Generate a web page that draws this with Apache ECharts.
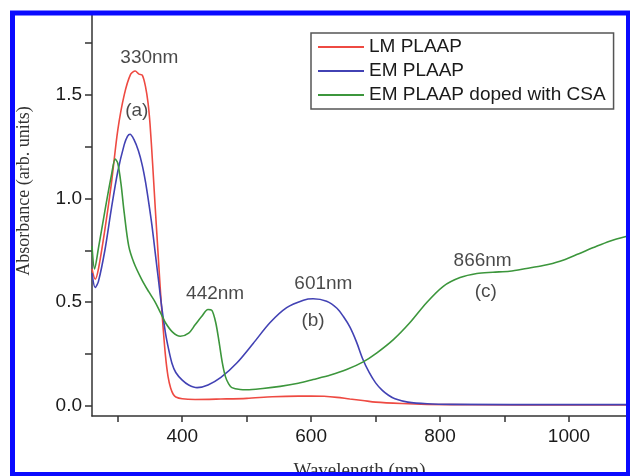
<!DOCTYPE html>
<html>
<head>
    <meta charset="utf-8">
    <title>Absorbance spectra</title>
    <style>
        body { margin: 0; overflow: hidden; background: #fff; }
    </style>
</head>
<body>
	<div id="chart-container" style="width: 630px; height: 476px;"></div>

	<script type="text/javascript" src="https://cdn.jsdelivr.net/npm/echarts@6/dist/echarts.min.js"></script>
	<script type="text/javascript">
		// [wavelength nm, absorbance]
		var lmPlaap = [
			[260, 0.66], [265, 0.61], [270, 0.66], [280, 0.85], [290, 1.07], [300, 1.33],
			[310, 1.50], [320, 1.60], [327, 1.615], [333, 1.60], [338, 1.595], [343, 1.54],
			[347, 1.46], [350, 1.36], [354, 1.17], [358, 0.96], [362, 0.76], [366, 0.56],
			[370, 0.39], [374, 0.24], [378, 0.14], [382, 0.085], [386, 0.055], [390, 0.042],
			[400, 0.033], [420, 0.03], [460, 0.032], [500, 0.035], [540, 0.043], [580, 0.046],
			[600, 0.046], [620, 0.045], [640, 0.04], [660, 0.032], [680, 0.025], [700, 0.017],
			[740, 0.01], [780, 0.006], [850, 0.004], [1000, 0.003], [1090, 0.003]
		];
		var emPlaap = [
			[260, 0.64], [265, 0.57], [270, 0.60], [280, 0.75], [290, 0.95], [300, 1.13],
			[310, 1.26], [315, 1.30], [319, 1.31], [325, 1.285], [332, 1.23], [338, 1.16],
			[343, 1.08], [348, 0.98], [353, 0.87], [358, 0.74], [363, 0.61], [368, 0.48],
			[374, 0.35], [379, 0.27], [384, 0.205], [390, 0.16], [400, 0.123], [410, 0.10],
			[423, 0.087], [440, 0.10], [460, 0.136], [485, 0.207], [510, 0.30], [536, 0.40],
			[562, 0.473], [588, 0.509], [603, 0.516], [624, 0.504], [640, 0.47], [650, 0.43],
			[660, 0.38], [670, 0.31], [680, 0.225], [690, 0.16], [700, 0.11], [710, 0.075],
			[720, 0.05], [730, 0.033], [750, 0.017], [780, 0.009], [820, 0.006], [1000, 0.005],
			[1090, 0.005]
		];
		var emCsa = [
			[260, 0.77], [264, 0.66], [270, 0.76], [280, 0.94], [290, 1.11], [296, 1.19],
			[300, 1.17], [305, 1.07], [310, 0.93], [317, 0.77], [325, 0.69], [337, 0.61],
			[348, 0.55], [358, 0.50], [366, 0.45], [374, 0.40], [385, 0.355], [397, 0.335],
			[410, 0.35], [420, 0.39], [430, 0.43], [440, 0.464], [446, 0.46], [452, 0.40],
			[457, 0.31], [462, 0.21], [467, 0.14], [472, 0.105], [477, 0.087], [490, 0.078],
			[500, 0.077], [525, 0.083], [552, 0.093], [580, 0.108], [603, 0.126], [630, 0.148],
			[655, 0.174], [680, 0.21], [702, 0.255], [728, 0.32], [753, 0.40], [779, 0.497],
			[805, 0.576], [831, 0.618], [857, 0.638], [882, 0.644], [908, 0.649], [934, 0.662],
			[960, 0.676], [986, 0.697], [1012, 0.729], [1038, 0.763], [1063, 0.794], [1090, 0.818]
		];
		// peak labels [nm, absorbance, text]
		var notes = [
			[349, 1.68, '330nm'], [329.5, 1.425, '(a)'],
			[451, 0.54, '442nm'],
			[619, 0.59, '601nm'], [603, 0.41, '(b)'],
			[866, 0.70, '866nm'], [871, 0.55, '(c)']
		];
		var xTicks = [300, 400, 500, 600, 700, 800, 900, 1000];
		var xLabels = [400, 600, 800, 1000];
		var yTicks = [0, 0.25, 0.5, 0.75, 1, 1.25, 1.5, 1.75];
		var yLabels = [0, 0.5, 1, 1.5];
		var names = ['LM PLAAP', 'EM PLAAP', 'EM PLAAP doped with CSA'];

		var sans = "'Liberation Sans', Arial, sans-serif";
		var serif = "'Liberation Serif', 'DejaVu Serif', serif";

		var myChart = echarts.init(document.getElementById('chart-container'));

		function lineSeries(name, data, color) {
			return {
				name: name,
				type: 'line',
				data: data,
				symbol: 'none',
				smooth: 0.3,
				lineStyle: { color: color, width: 1.6 },
				itemStyle: { color: color }
			};
		}

		var option = {
			animation: false,
			backgroundColor: '#fff',
			grid: { left: 92, right: 3, top: 12, bottom: 60, outerBoundsMode: 'none' },
			legend: {
				data: names,
				orient: 'vertical',
				left: 311,
				top: 33,
				padding: [4, 8, 4, 7],
				itemGap: 4,
				icon: 'rect',
				itemWidth: 46,
				itemHeight: 2,
				borderColor: '#555',
				borderWidth: 1.5,
				textStyle: { fontFamily: sans, fontSize: 19, color: '#1a1a1a', lineHeight: 20 }
			},
			xAxis: {
				type: 'value',
				min: 260,
				max: 1090,
				name: 'Wavelength (nm)',
				nameLocation: 'middle',
				nameGap: 46,
				nameTextStyle: { fontFamily: serif, fontSize: 19, color: '#333' },
				splitLine: { show: false },
				axisLine: { onZero: false, lineStyle: { color: '#333', width: 1.5 } },
				axisTick: { customValues: xTicks, length: 6, lineStyle: { color: '#333', width: 1.5 } },
				axisLabel: {
					customValues: xLabels, margin: 11, fontFamily: sans, fontSize: 19, color: '#1a1a1a',
					formatter: function (v) { return String(v); }
				}
			},
			yAxis: {
				type: 'value',
				min: -0.05,
				max: 1.9,
				splitLine: { show: false },
				axisLine: { show: true, onZero: false, lineStyle: { color: '#333', width: 1.5 } },
				axisTick: { show: true, customValues: yTicks, length: 7, lineStyle: { color: '#333', width: 1.5 } },
				axisLabel: {
					customValues: yLabels, margin: 10, fontFamily: sans, fontSize: 19, color: '#1a1a1a',
					formatter: function (v) { return v.toFixed(1); }
				}
			},
			series: [
				lineSeries(names[0], lmPlaap, '#ee4a42'),
				lineSeries(names[1], emPlaap, '#4242b4'),
				lineSeries(names[2], emCsa, '#3c963c'),
				{
					type: 'scatter',
					silent: true,
					data: notes,
					symbolSize: 1,
					itemStyle: { color: 'rgba(0,0,0,0)' },
					label: {
						show: true,
						position: 'inside',
						fontFamily: sans,
						fontSize: 19,
						color: '#1a1a1a',
						formatter: function (p) { return p.data[2]; }
					}
				}
			],
			graphic: [
				{
					type: 'text',
					x: 24,
					y: 191,
					rotation: Math.PI / 2,
					style: {
						text: 'Absorbance (arb. units)',
						font: '18px ' + serif,
						fill: '#333',
						align: 'center',
						verticalAlign: 'middle'
					}
				},
				{
					type: 'rect',
					z: 100,
					shape: { x: 12.5, y: 13, width: 616, height: 461.5 },
					style: { fill: 'none', stroke: '#0a0aff', lineWidth: 5 }
				}
			]
		};

		myChart.setOption(option);
	</script>
</body>
</html>
